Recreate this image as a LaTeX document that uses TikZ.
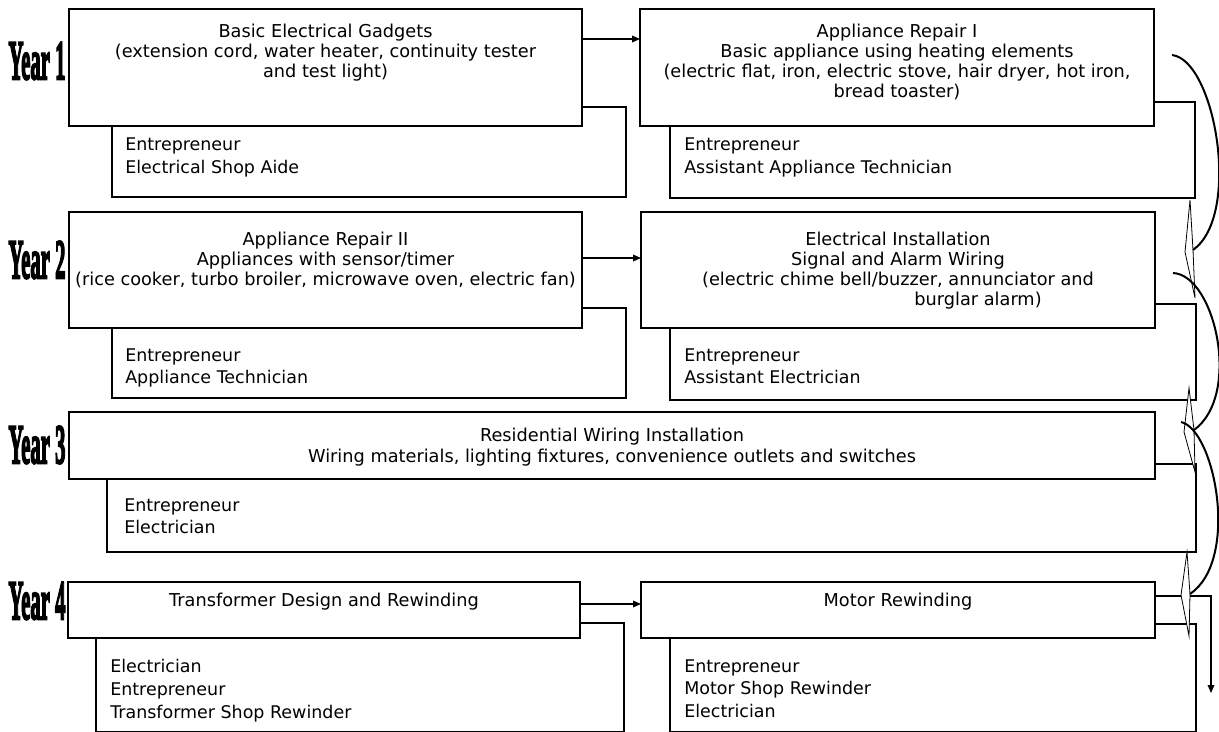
\documentclass[tikz,border=0pt]{standalone}
\usepackage{graphicx}
\usepackage{fontspec}
\setmainfont{DejaVu Sans}
\newfontfamily\yearfont[BoldFeatures={FakeBold=4}]{Liberation Serif}
\usetikzlibrary{arrows.meta,fit,calc}
\begin{document}
\begin{tikzpicture}[x=0.75pt,y=-0.75pt,
  box/.style={draw,line width=0.9pt,fill=white,inner sep=0pt,outer sep=0pt},
  jobbox/.style={draw,line width=0.9pt,inner sep=0pt,outer sep=0pt},
  ttl/.style={align=center,anchor=north,inner sep=0pt,font=\fontsize{13.3}{15}\selectfont},
  job/.style={align=left,anchor=north west,inner sep=0pt,font=\fontsize{13.1}{17.2}\selectfont},
  yr/.style={inner sep=0pt,font=\yearfont\bfseries\fontsize{42}{42}\selectfont},
  arr/.style={line width=0.9pt,-{Triangle[length=6pt,width=5pt]}},
  crv/.style={line width=1.5pt},
  kite/.style={draw,line width=0.6pt,fill=white}
]
\useasboundingbox (0,0) rectangle (1219,731);
\clip (0,0) rectangle (1219,731);

% ---------- Year labels
\node[yr] (y1) at (37,61) {\scalebox{0.37}[1]{Year 1}};
\node[yr] (y2) at (37,260) {\scalebox{0.37}[1]{Year 2}};
\node[yr] (y3) at (37,445) {\scalebox{0.37}[1]{Year 3}};
\node[yr] (y4) at (37,601) {\scalebox{0.37}[1]{Year 4}};

% ---------- Row 1
\node[jobbox,fit={(112,107) (626,197)}] (A1j) {};
\node[box,fit={(69,9) (582,126)}] (A1) {};
\node[jobbox,fit={(670,102) (1195,198)}] (B1j) {};
\node[box,fit={(640,9) (1154,126)}] (B1) {};
\node[ttl] (A1t) at (325.5,24) {Basic Electrical Gadgets\\(extension cord, water heater, continuity tester\\and test light)};
\node[ttl] (B1t) at (897,24) {Appliance Repair I\\Basic appliance using heating elements\\(electric flat, iron, electric stove, hair dryer, hot iron,\\bread toaster)};
\node[job] (A1jt) at (125,138) {Entrepreneur\\Electrical Shop Aide};
\node[job] (B1jt) at (684,138) {Entrepreneur\\Assistant Appliance Technician};
\coordinate (r1) at (0,39);
\draw[arr] (A1.east |- r1) -- (B1.west |- r1);

% ---------- Row 2
\node[jobbox,fit={(112,308) (626,398)}] (A2j) {};
\node[box,fit={(69,212) (582,328)}] (A2) {};
\node[jobbox,fit={(670,304) (1196,400)}] (B2j) {};
\node[box,fit={(641,212) (1155,328)}] (B2) {};
\node[ttl] (A2t) at (325.5,232) {Appliance Repair II\\Appliances with sensor/timer\\(rice cooker, turbo broiler, microwave oven, electric fan)};
\node[ttl] (B2t) at (898,232) {Electrical Installation\\Signal and Alarm Wiring\\(electric chime bell/buzzer, annunciator and\\\hspace*{120pt}burglar alarm)};
\node[job] (A2jt) at (125,348) {Entrepreneur\\Appliance Technician};
\node[job] (B2jt) at (684,348) {Entrepreneur\\Assistant Electrician};
\coordinate (r2) at (0,258);
\draw[arr] (A2.east |- r2) -- (B2.west |- r2);

% ---------- Row 3
\node[jobbox,fit={(107,464) (1196,552)}] (A3j) {};
\node[box,fit={(69,412) (1155,479)}] (A3) {};
\node[ttl,font=\fontsize{13.3}{15.8}\selectfont] (A3t) at (612,428) {Residential Wiring Installation\\Wiring materials, lighting fixtures, convenience outlets and switches};
\node[job] (A3jt) at (124,498) {Entrepreneur\\Electrician};

% ---------- Row 4
\node[jobbox,fit={(96,623) (624,732)}] (A4j) {};
\node[box,fit={(68,582) (580,638)}] (A4) {};
\node[jobbox,fit={(670,624) (1196,732)}] (B4j) {};
\node[box,fit={(641,582) (1155,638)}] (B4) {};
\node[ttl] (A4t) at (324,593) {Transformer Design and Rewinding};
\node[ttl] (B4t) at (898,593) {Motor Rewinding};
\node[job] (A4jt) at (110,659) {Electrician\\Entrepreneur\\Transformer Shop Rewinder};
\node[job] (B4jt) at (684,659) {Entrepreneur\\Motor Shop Rewinder\\Electrician};
\coordinate (r4) at (0,604);
\draw[arr] (A4.east |- r4) -- (B4.west |- r4);
\coordinate (t4) at (1211,596);
\coordinate (e4) at (1211,693);
\draw[arr] (B4.east |- t4) -- (t4) -- (e4);

% ---------- curved arrows on the right
\coordinate (c1s) at (1172,55);  \coordinate (c1e) at (1193,250);
\coordinate (c2s) at (1173,273); \coordinate (c2e) at (1194,430);
\coordinate (c3s) at (1181,422); \coordinate (c3e) at (1190,594);
\draw[kite] (1190,200) -- (1193,250) -- (1195,298) -- (1185,252) -- cycle;
\draw[kite] (1189,388) -- (1194,430) -- (1195,472) -- (1184,432) -- cycle;
\draw[kite] (1187,552) -- (1190,594) -- (1189,636) -- (1181,595) -- cycle;
\draw[crv] (c1s) .. controls (1215,60) and (1242,215) .. (c1e);
\draw[crv] (c2s) .. controls (1215,275) and (1242,395) .. (c2e);
\draw[crv] (c3s) .. controls (1215,430) and (1240,560) .. (c3e);
\end{tikzpicture}
\end{document}
